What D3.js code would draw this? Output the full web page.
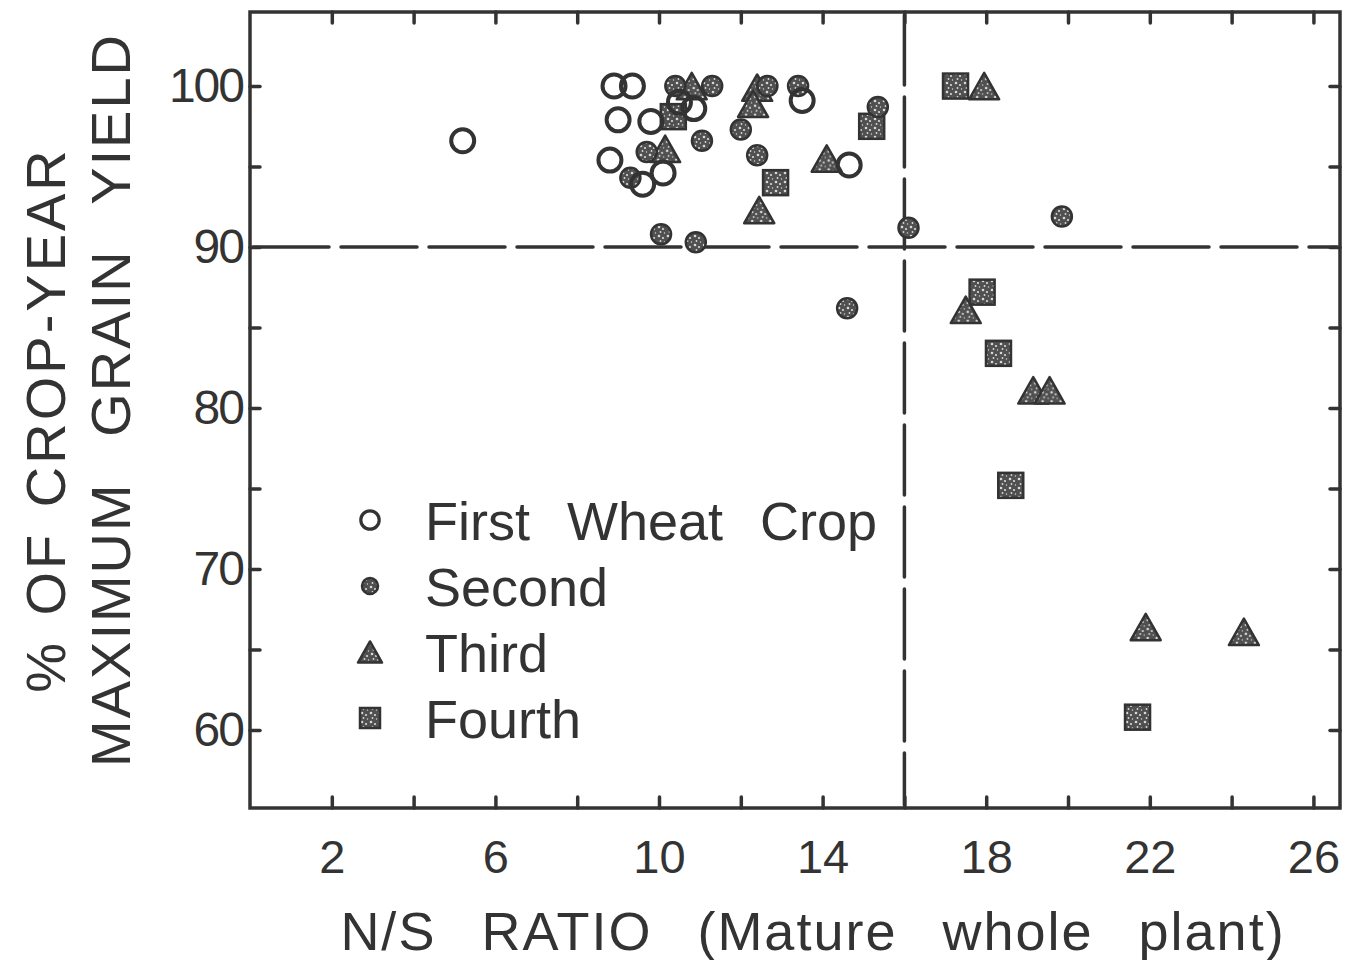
<!DOCTYPE html>
<html>
<head>
<meta charset="utf-8">
<script src="https://cdn.jsdelivr.net/npm/d3@7"></script>
<style>
  html, body { margin: 0; padding: 0; background: #ffffff; }
  svg { display: block; }
  text { font-family: "Liberation Sans", Arial, sans-serif; fill: #333; }
</style>
</head>
<body>
<svg id="chart" width="1350" height="960"></svg>
<script>
// N/S ratio of the mature whole plant vs. % of crop-year maximum grain yield
const firstCrop = [
  [5.2, 96.6], [8.9, 100], [9.35, 100], [10.5, 99.0], [10.85, 98.6],
  [9.0, 97.9], [9.8, 97.8], [8.8, 95.4], [9.6, 93.9], [10.1, 94.6],
  [13.5, 99.1], [14.65, 95.1]
];
const secondCrop = [
  [10.4, 100], [11.3, 100], [12.0, 97.3], [11.05, 96.6], [9.7, 95.9],
  [9.3, 94.3], [10.05, 90.8], [10.9, 90.3], [12.65, 100], [12.4, 95.7],
  [13.4, 100], [15.35, 98.7], [16.1, 91.2], [14.6, 86.2], [19.85, 91.9]
];
const thirdCrop = [
  [10.8, 100], [10.15, 96.1], [12.4, 99.9], [12.3, 98.9], [12.45, 92.3],
  [14.1, 95.5], [17.95, 100], [17.5, 86.1], [19.15, 81.1], [19.55, 81.1],
  [21.9, 66.4], [24.3, 66.1]
];
const fourthCrop = [
  [10.35, 98.1], [12.85, 94.0], [15.2, 97.5], [17.25, 100], [17.9, 87.2],
  [18.3, 83.4], [18.6, 75.2], [21.7, 60.8]
];
const legendLabels = ["First  Wheat  Crop", "Second", "Third", "Fourth"];
const xTickLabels = [2, 6, 10, 14, 18, 22, 26];
const yTickLabels = [60, 70, 80, 90, 100];
const xMinorTicks = d3.range(2, 27, 2);
const yMinorTicks = d3.range(60, 101, 5);
const yieldThreshold = 90;
const ratioThreshold = 16;

const svg = d3.select("#chart");
const ink = "#333";

const x = d3.scaleLinear().domain([0, 26.65]).range([250, 1340]);
const y = d3.scaleLinear().domain([55.16, 104.6]).range([808, 12]);

// speckled fill used for the solid markers
const defs = svg.append("defs");
const pat = defs.append("pattern").attr("id", "speckle")
  .attr("width", 9).attr("height", 9).attr("patternUnits", "userSpaceOnUse");
pat.append("rect").attr("width", 9).attr("height", 9).attr("fill", "#505050");
[[2, 2, 1.3], [6, 4, 1.1], [3.5, 7, 0.9], [7.5, 8, 0.7]].forEach(([cx, cy, r]) =>
  pat.append("circle").attr("cx", cx).attr("cy", cy).attr("r", r).attr("fill", "#d8d8d8"));

// frame
svg.append("rect")
  .attr("x", x(0)).attr("y", y(104.6))
  .attr("width", x(26.65) - x(0)).attr("height", y(55.16) - y(104.6))
  .attr("fill", "none").attr("stroke", ink).attr("stroke-width", 3.5);

// inward ticks on all four sides
function styleTicks(g) {
  g.select(".domain").remove();
  g.selectAll(".tick line").attr("stroke", ink).attr("stroke-width", 3.5)
    .attr("stroke-linecap", "round");
}
svg.append("g").attr("transform", `translate(0,${y(55.16)})`)
  .call(d3.axisBottom(x).tickValues(xMinorTicks).tickSize(-11).tickFormat(""))
  .call(styleTicks);
svg.append("g").attr("transform", `translate(0,${y(104.6)})`)
  .call(d3.axisTop(x).tickValues(xMinorTicks).tickSize(-11).tickFormat(""))
  .call(styleTicks);
svg.append("g").attr("transform", `translate(${x(0)},0)`)
  .call(d3.axisLeft(y).tickValues(yMinorTicks).tickSize(-10).tickFormat(""))
  .call(styleTicks);
svg.append("g").attr("transform", `translate(${x(26.65)},0)`)
  .call(d3.axisRight(y).tickValues(yMinorTicks).tickSize(-10).tickFormat(""))
  .call(styleTicks);

// tick labels
const xLab = svg.append("g").attr("transform", `translate(0,${y(55.16)})`)
  .call(d3.axisBottom(x).tickValues(xTickLabels).tickSize(0).tickPadding(32));
xLab.select(".domain").remove();
xLab.selectAll("text").attr("font-size", 47).attr("fill", ink)
  .attr("font-family", "'Liberation Sans', Arial, sans-serif");

const yLab = svg.append("g").attr("transform", `translate(${x(0)},0)`)
  .call(d3.axisLeft(y).tickValues(yTickLabels).tickSize(0).tickPadding(7));
yLab.select(".domain").remove();
yLab.selectAll("text").attr("font-size", 48).attr("fill", ink)
  .attr("letter-spacing", -2)
  .attr("font-family", "'Liberation Sans', Arial, sans-serif");

// threshold lines
svg.append("line")
  .attr("x1", x(0) + 3).attr("x2", x(26.65) - 3)
  .attr("y1", y(yieldThreshold)).attr("y2", y(yieldThreshold))
  .attr("stroke", ink).attr("stroke-width", 3.5)
  .attr("stroke-dasharray", "76,12").attr("stroke-linecap", "round");
svg.append("line")
  .attr("x1", x(ratioThreshold)).attr("x2", x(ratioThreshold))
  .attr("y1", y(104.6) + 3).attr("y2", y(55.16) - 3)
  .attr("stroke", ink).attr("stroke-width", 3.5)
  .attr("stroke-dasharray", "70,12").attr("stroke-linecap", "round");

// marker shapes
function triPath(s) {
  const h = s * 0.88;
  return `M0,${-h / 2}L${s / 2},${h / 2}L${-s / 2},${h / 2}Z`;
}
function drawMarker(g, kind, cx, cy, scale) {
  if (kind === 0) {
    g.append("circle").attr("cx", cx).attr("cy", cy).attr("r", 11.5 * scale)
      .attr("fill", "none").attr("stroke", ink).attr("stroke-width", 4 * scale);
  } else if (kind === 1) {
    g.append("circle").attr("cx", cx).attr("cy", cy).attr("r", 10 * scale)
      .attr("fill", "url(#speckle)").attr("stroke", ink).attr("stroke-width", 2.5);
  } else if (kind === 2) {
    g.append("path").attr("d", triPath(30 * scale))
      .attr("transform", `translate(${cx},${cy})`)
      .attr("fill", "url(#speckle)").attr("stroke", ink).attr("stroke-width", 2.5)
      .attr("stroke-linejoin", "round");
  } else {
    const s = 25 * scale;
    g.append("rect").attr("x", cx - s / 2).attr("y", cy - s / 2)
      .attr("width", s).attr("height", s)
      .attr("fill", "url(#speckle)").attr("stroke", ink).attr("stroke-width", 2.5);
  }
}

const marks = svg.append("g");
[fourthCrop, thirdCrop, secondCrop, firstCrop].forEach((series, i) => {
  const kind = 3 - i;
  series.forEach(([nx, yy]) => drawMarker(marks, kind, x(nx), y(yy), 1));
});

// legend
const legend = svg.append("g");
legendLabels.forEach((label, i) => {
  const rowY = 520 + i * 66;
  drawMarker(legend, i, 370, rowY, 0.8);
  legend.append("text").attr("x", 425).attr("y", rowY + 20)
    .attr("font-size", 54).attr("fill", ink)
    .attr("word-spacing", 22)
    .text(label);
});

// axis titles
svg.append("text")
  .attr("transform", "translate(813,950)")
  .attr("text-anchor", "middle").attr("font-size", 54)
  .attr("letter-spacing", 2).attr("word-spacing", 28)
  .text("N/S  RATIO   (Mature  whole  plant)");

svg.append("text")
  .attr("transform", "translate(65,420) rotate(-90)")
  .attr("text-anchor", "middle").attr("font-size", 56)
  .attr("letter-spacing", 3).attr("word-spacing", 6)
  .text("% OF CROP-YEAR");
svg.append("text")
  .attr("transform", "translate(130,400) rotate(-90)")
  .attr("text-anchor", "middle").attr("font-size", 56)
  .attr("letter-spacing", 2).attr("word-spacing", 28)
  .text("MAXIMUM GRAIN YIELD");
</script>
</body>
</html>
